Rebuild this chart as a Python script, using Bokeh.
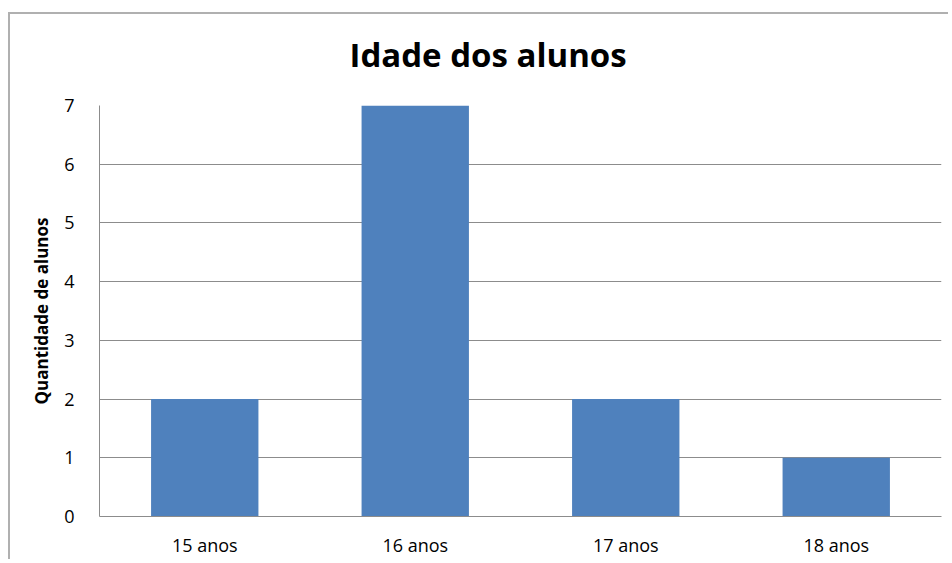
from bokeh.plotting import figure
from bokeh.models import Range1d, FactorRange, Title, SingleIntervalTicker
from bokeh.embed import file_html
from bokeh.resources import INLINE

# data
categories = ["15 anos", "16 anos", "17 anos", "18 anos"]
counts = [2, 7, 2, 1]
title_text = "Idade dos alunos"
y_label = "Quantidade de alunos"

FONT = "Open Sans"
GRID = "#8c8c8c"
BAR = "#4F81BD"

p = figure(
    x_range=FactorRange(*categories, range_padding=0),
    y_range=Range1d(0, 7),
    width=940, height=547,
    output_backend="svg", toolbar_location=None,
    min_border_left=89, min_border_right=9,
    min_border_top=91, min_border_bottom=45,
    title=None,
)
p.styles = {"border-left": "2px solid #b0b0b0", "border-top": "2px solid #b0b0b0",
            "margin-top": "12px", "margin-left": "8px"}
p.outline_line_color = None
p.background_fill_color = "white"
p.border_fill_color = "white"

p.vbar(x=categories, top=counts, width=0.51, bottom=0, fill_color=BAR, line_color=None)

# axes
p.yaxis.ticker = SingleIntervalTicker(interval=1)
p.yaxis.axis_line_color = GRID
p.xaxis.axis_line_color = GRID
for ax in (p.xaxis, p.yaxis):
    ax.major_tick_line_color = None
    ax.minor_tick_line_color = None
    ax.major_tick_in = 0
    ax.major_tick_out = 0
    ax.major_label_text_font = FONT
    ax.major_label_text_font_size = "18px"
    ax.major_label_text_color = "black"
p.yaxis.major_label_standoff = 21
p.xaxis.major_label_standoff = 16
p.yaxis.axis_label = y_label
p.yaxis.axis_label_text_font = FONT
p.yaxis.axis_label_text_font_style = "bold"
p.yaxis.axis_label_text_font_size = "17px"
p.yaxis.axis_label_text_color = "black"
p.yaxis.axis_label_standoff = 8

p.xgrid.grid_line_color = None
p.ygrid.grid_line_color = GRID
p.ygrid.grid_line_width = 1

# small spacer panel between frame and title
spacer = Title(text=" ", standoff=8, text_font_size="1px")
p.add_layout(spacer, "above")

title = Title(text=title_text, align="left", offset=250, standoff=33,
              vertical_align="middle",
              text_font=FONT, text_font_style="bold", text_font_size="33px",
              text_color="black")
p.add_layout(title, "above")

open("out.html", "w").write(file_html(p, INLINE))
